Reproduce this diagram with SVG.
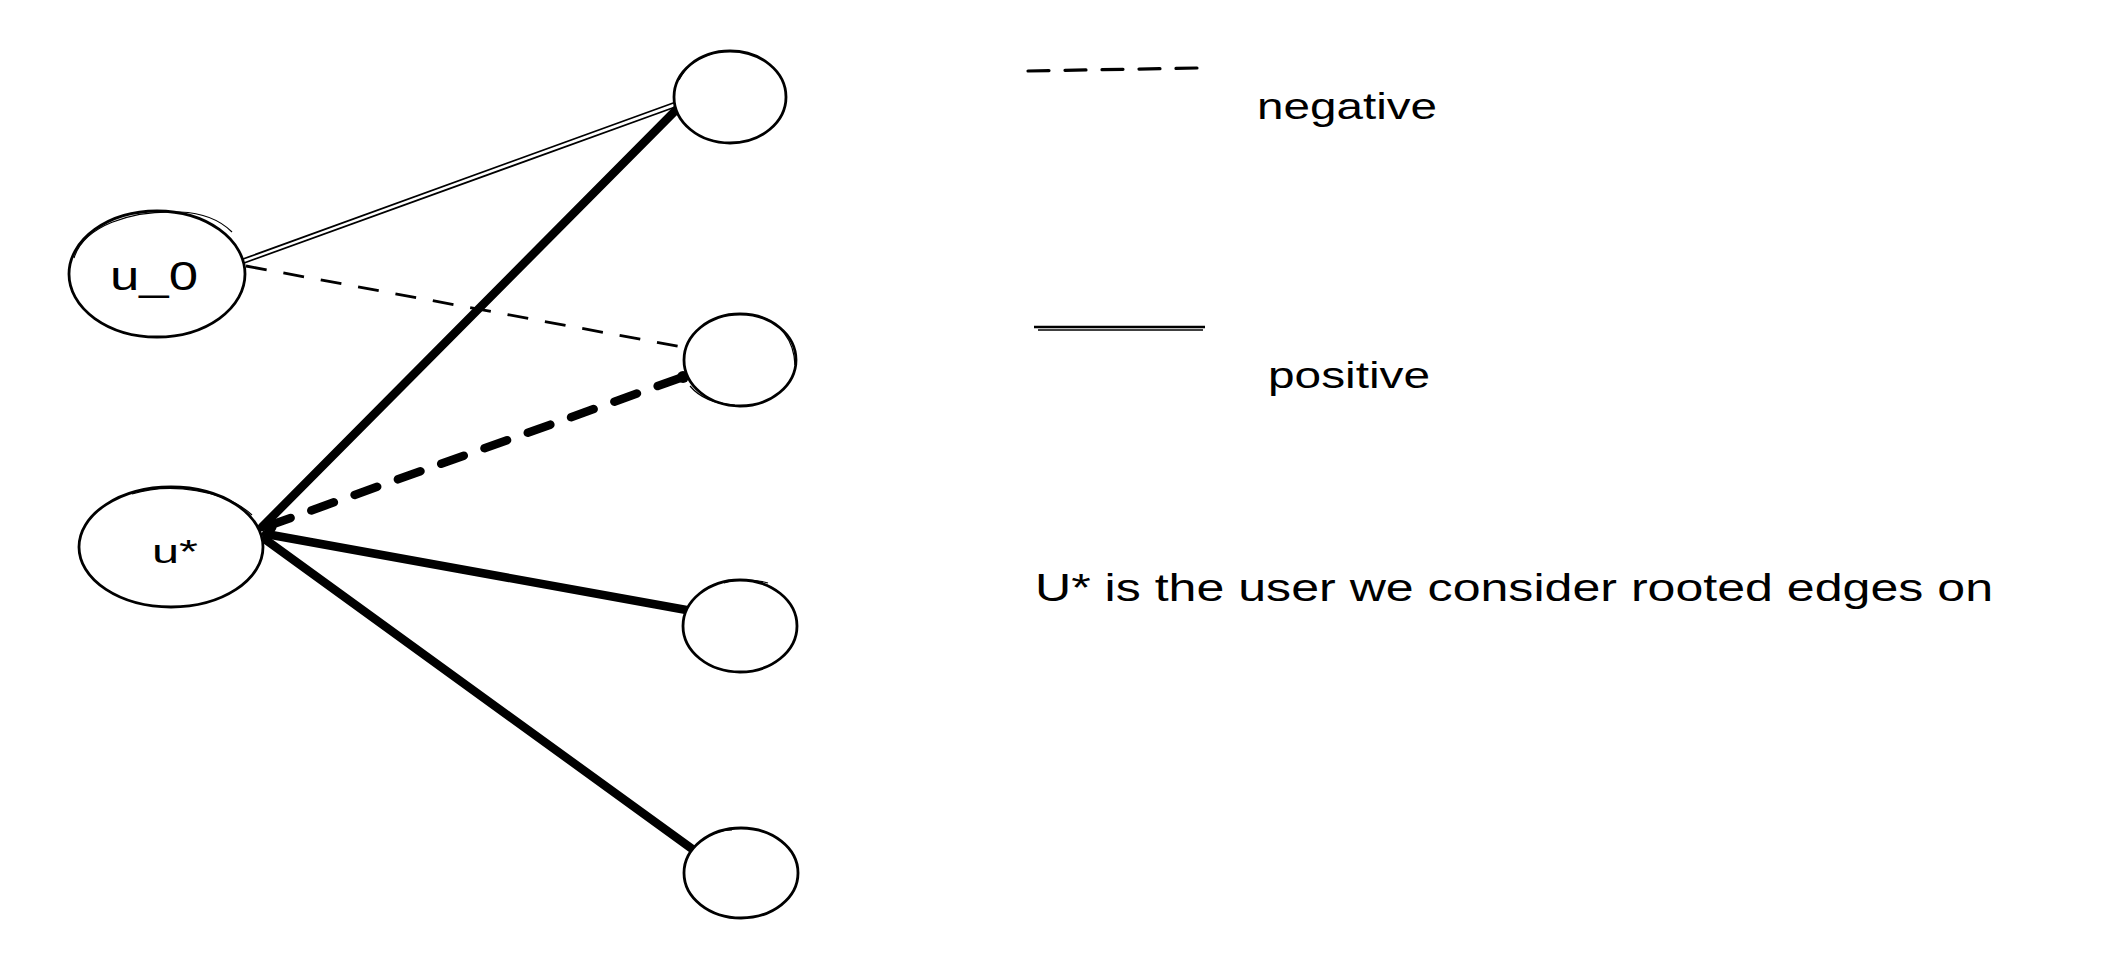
<svg xmlns="http://www.w3.org/2000/svg" width="2120" height="976" viewBox="0 0 2120 976">
<style>
.node{fill:#fff;stroke:#000;stroke-width:2.8}
.sk{fill:none;stroke:#000;stroke-width:1.2}
.lbl{font-family:"Liberation Sans",Arial,sans-serif;fill:#000}
.thick{stroke:#000;stroke-width:8.5;stroke-linecap:round;fill:none}
.thin{stroke:#000;stroke-width:1.7;fill:none}
</style>
<rect width="2120" height="976" fill="#fff"/>
<g id="connectors">
<line class="thin" x1="243" y1="259" x2="676" y2="102"/>
<line class="thin" x1="244" y1="263" x2="678" y2="106"/>
<line x1="246" y1="266" x2="682" y2="347" stroke="#000" stroke-width="2.8" stroke-dasharray="21 17"/>
<line class="thick" x1="262" y1="527" x2="680" y2="106"/>
<line class="thick" x1="268" y1="526" x2="683" y2="377" stroke-dasharray="24 22"/>
<line class="thick" x1="266" y1="534" x2="692" y2="611"/>
<line class="thick" x1="266" y1="540" x2="695" y2="851"/>
<circle cx="683" cy="377" r="6" fill="#000"/>
<circle cx="270" cy="527" r="6.5" fill="#000"/>
</g>
<g id="node-u0">
<ellipse class="node" cx="157" cy="274" rx="88" ry="63"/>
<path class="sk" d="M74 258 C84 226 130 210 180 212 C205 213 222 222 232 232"/>
<text class="lbl" x="154" y="290" font-size="40" text-anchor="middle" textLength="88" lengthAdjust="spacingAndGlyphs">u_0</text>
</g>
<g id="node-ustar">
<ellipse class="node" cx="171" cy="547" rx="92" ry="60"/>
<path class="sk" d="M132 494 C170 482 225 490 252 515"/>
<text class="lbl" x="175" y="563" font-size="34" text-anchor="middle" textLength="46" lengthAdjust="spacingAndGlyphs">u*</text>
</g>
<g id="node-1">
<ellipse class="node" cx="730" cy="97" rx="56" ry="46"/>
<path class="sk" d="M679 80 C687 65 700 57 712 54"/>
</g>
<g id="node-2">
<ellipse class="node" cx="740" cy="360" rx="56" ry="46"/>
<path class="sk" d="M758 316 C780 322 794 340 795 365 M690 386 C700 398 715 404 735 405"/>
</g>
<g id="node-3">
<ellipse class="node" cx="740" cy="626" rx="57" ry="46"/>
<path class="sk" d="M724 583 C735 579 755 579 768 583"/>
</g>
<g id="node-4">
<ellipse class="node" cx="741" cy="873" rx="57" ry="45"/>
<path class="sk" d="M702 840 C711 834 722 830 732 830"/>
</g>
<g id="legend-negative">
<line x1="1028" y1="71" x2="1197" y2="68" stroke="#000" stroke-width="3.2" stroke-dasharray="21 16" stroke-linecap="round"/>
<text class="lbl" x="1257" y="119" font-size="36" textLength="180" lengthAdjust="spacingAndGlyphs">negative</text>
</g>
<g id="legend-positive">
<line x1="1034" y1="327" x2="1205" y2="327" stroke="#000" stroke-width="2.6"/>
<line x1="1038" y1="330" x2="1203" y2="330" stroke="#000" stroke-width="1.4"/>
<text class="lbl" x="1268" y="388" font-size="36" textLength="162" lengthAdjust="spacingAndGlyphs">positive</text>
</g>
<g id="note">
<text class="lbl" x="1035" y="601" font-size="38" textLength="958" lengthAdjust="spacingAndGlyphs">U* is the user we consider rooted edges on</text>
</g>
</svg>
